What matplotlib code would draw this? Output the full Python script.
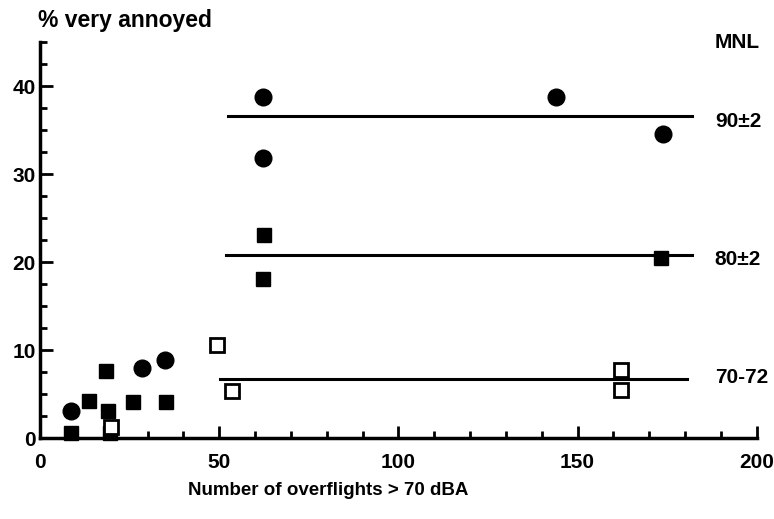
import numpy as np
import matplotlib.pyplot as plt
from matplotlib.ticker import MultipleLocator

plt.rcParams['font.family'] = ['Liberation Sans', 'DejaVu Sans']

# puntos
circ_x = [8.6, 28.4, 34.9, 62.2, 62.2, 143.9, 173.9]
circ_y = [3.1, 8.0, 8.9, 38.7, 31.8, 38.7, 34.5]

sq_x = [8.6, 13.8, 18.4, 19.1, 19.5, 25.9, 35.1, 62.5, 62.3, 173.4]
sq_y = [0.6, 4.2, 7.6, 3.1, 0.6, 4.1, 4.1, 23.1, 18.1, 20.5]

open_x = [19.8, 49.5, 53.6, 162.2, 162.2]
open_y = [1.3, 10.6, 5.3, 7.7, 5.5]

# lineas de nivel MNL
mnl_labels = ["90\u00b12", "80\u00b12", "70-72"]
mnl_y = [36.6, 20.8, 6.7]
mnl_x0 = [52.5, 52.0, 50.2]
mnl_x1 = [181.8, 181.8, 180.4]
lab_dy = [-0.6, -0.5, 0.2]

fig = plt.figure(figsize=(7.74, 5.19), dpi=100)
ax = fig.add_axes([0.0517, 0.156, 0.926, 0.763])

for y, a, b in zip(mnl_y, mnl_x0, mnl_x1):
    ax.plot([a, b], [y, y], color='black', lw=2.2, zorder=2)

ax.plot(circ_x, circ_y, 'o', color='black', ms=12, zorder=3, clip_on=False)
ax.plot(sq_x, sq_y, 's', color='black', ms=10, zorder=3, clip_on=False)
ax.plot(open_x, open_y, 's', mfc='white', mec='black', mew=2, ms=10, zorder=4, clip_on=False)

ax.set_xlim(0, 200)
ax.set_ylim(0, 45)
ax.set_xticks([0, 50, 100, 150, 200])
ax.set_yticks([0, 10, 20, 30, 40])
ax.xaxis.set_minor_locator(MultipleLocator(10))
ax.yaxis.set_minor_locator(MultipleLocator(2.5))
ax.tick_params(which='major', direction='in', length=9, width=2, labelsize=15)
ax.tick_params(which='minor', direction='in', length=5, width=2)
ax.tick_params(axis='x', pad=11)
ax.tick_params(axis='y', pad=3)
for lab in ax.get_xticklabels() + ax.get_yticklabels():
    lab.set_fontweight('bold')

for s in ['top', 'right']:
    ax.spines[s].set_visible(False)
for s in ['left', 'bottom']:
    ax.spines[s].set_linewidth(2.5)

for lab, y, dy in zip(mnl_labels, mnl_y, lab_dy):
    ax.text(188.3, y + dy, lab, fontsize=15, fontweight='bold', va='center', ha='left')
ax.text(188.3, 45.0, "MNL", fontsize=15, fontweight='bold', va='center', ha='left', clip_on=False)

fig.text(0.049, 0.96, "% very annoyed", fontsize=16.5, fontweight='bold', va='center')
fig.text(0.424, 0.055, "Number of overflights > 70 dBA", fontsize=13.5, fontweight='bold',
         va='center', ha='center')

fig.savefig("out.png", dpi=100)
